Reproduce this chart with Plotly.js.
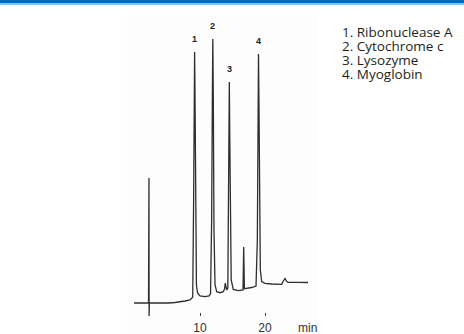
<!DOCTYPE html>
<html>
<head>
<meta charset="utf-8">
<script src="https://cdn.plot.ly/plotly-3.0.1.min.js"></script>
<style>html,body{margin:0;padding:0;background:#fff;}#chart{width:464px;height:334px;}</style>
</head>
<body>
<div id="chart"></div>
<script>
// Retention time (min) and detector signal (arbitrary units)
const time = [-0.15, 2.08, 2.15, 2.17, 2.20, 5.08, 6.15, 7.69, 8.46, 8.72, 8.88, 9.02, 9.11, 9.17, 9.25, 9.34, 9.45, 9.62, 10.0, 10.77, 11.38,
  11.62, 11.79, 11.90, 11.97, 12.05, 12.15, 12.31, 12.57, 13.08, 13.58, 13.77, 13.89, 14.0, 14.11, 14.28,
  14.40, 14.46, 14.51, 14.57, 14.66, 14.80, 15.12, 15.89, 16.62, 16.72, 16.83, 16.92, 17.95, 18.62,
  18.82, 18.92, 19.0, 19.08, 19.17, 19.28, 19.49, 20.0, 21.03, 22.57, 22.82, 23.08, 23.34, 23.58, 25.12, 26.62];
const signal = [0, 0, 125, -13, 0, 0, 0.5, 2, 3, 4.7, 6, 103, 203, 251, 193, 73, 18, 10, 7, 6.3, 7,
  9, 83, 203, 264, 203, 73, 18, 11.3, 10.3, 11.3, 14, 20, 16, 13, 15,
  103, 183, 221, 173, 73, 23, 13.5, 12.3, 13, 56, 14, 14.5, 15.5, 17,
  63, 183, 249, 193, 83, 33, 21.5, 19.7, 19, 18.7, 22, 24.5, 21.5, 20.7, 20.7, 20.5];

// Peak identifiers
const peakNames = ["Ribonuclease A", "Cytochrome c", "Lysozyme", "Myoglobin"];
const peakNumbers = ["1", "2", "3", "4"];
const peakTimes = [9.17, 11.97, 14.51, 19.0];
const peakHeights = [251, 264, 221, 249];

const tickValues = [10, 20];
const tickLabels = ["10", "20"];

const trace = {
  x: time, y: signal, type: "scatter", mode: "lines",
  line: {color: "#2e2e2e", width: 1.3, shape: "linear"},
  hoverinfo: "skip", showlegend: false
};

const annotations = peakNumbers.map((n, i) => ({
  x: peakTimes[i], y: peakHeights[i], xref: "x", yref: "y",
  text: "<b>" + n + "</b>", showarrow: false, yanchor: "bottom", yshift: 6,
  font: {family: "Liberation Sans, Arial, sans-serif", size: 9, color: "#222"}
}));

// Peak list, one line each
const listCentersPx = [31.7, 45.8, 59.8, 73.6];
peakNames.forEach((p, i) => {
  annotations.push({
    x: 340 / 464, y: 1 - listCentersPx[i] / 334, xref: "paper", yref: "paper",
    xanchor: "left", yanchor: "middle", align: "left", showarrow: false,
    text: peakNumbers[i] + ". " + p,
    font: {family: "Open Sans, Noto Sans, sans-serif", size: 13.5, color: "#231f20"}
  });
});

annotations.push({
  x: 307.5 / 464, y: 1 - 327.5 / 334, xref: "paper", yref: "paper",
  xanchor: "center", yanchor: "middle", showarrow: false, text: "min",
  font: {family: "Liberation Sans, Arial, sans-serif", size: 12, color: "#333"}
});

const layout = {
  width: 464, height: 334,
  margin: {l: 0, r: 0, t: 0, b: 0, pad: 0},
  paper_bgcolor: "#ffffff", plot_bgcolor: "rgba(0,0,0,0)",
  showlegend: false,
  xaxis: {
    range: [-20.769, 50.615], showgrid: false, zeroline: false, showline: false,
    anchor: "free", position: 22 / 334,
    ticks: "outside", ticklen: 3, tickwidth: 1, tickcolor: "#444",
    tickvals: tickValues, ticktext: tickLabels, ticklabelstandoff: 2,
    tickfont: {family: "Liberation Sans, Arial, sans-serif", size: 12, color: "#333"},
    fixedrange: true
  },
  yaxis: {range: [-31, 303], visible: false, fixedrange: true},
  shapes: [
    {type: "rect", xref: "paper", yref: "paper", x0: 127 / 464, x1: 318 / 464, y0: 0, y1: 1 - 15 / 334,
      fillcolor: "#fdfdfd", line: {width: 0}, layer: "below"},
    {type: "rect", xref: "paper", yref: "paper", x0: 0, x1: 1, y0: 1 - 3.5 / 334, y1: 1,
      fillcolor: "#0a6cb4", line: {width: 0}},
    {type: "rect", xref: "paper", yref: "paper", x0: 0, x1: 1, y0: 1 - 5 / 334, y1: 1 - 3.5 / 334,
      fillcolor: "#8ec5ea", line: {width: 0}}
  ],
  annotations: annotations
};

Plotly.newPlot("chart", [trace], layout, {displayModeBar: false, staticPlot: true});
</script>
</body>
</html>
